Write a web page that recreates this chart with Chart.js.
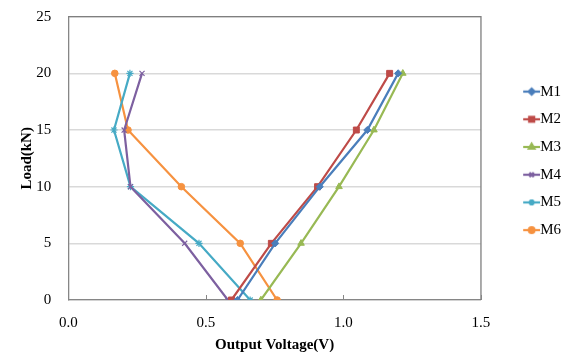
<!DOCTYPE html>
<html>
<head>
<meta charset="utf-8">
<script src="https://cdn.jsdelivr.net/npm/chart.js@4"></script>
<style>
  html, body { margin: 0; padding: 0; background: #ffffff; }
  #wrap { width: 569px; height: 352px; position: relative; }
</style>
</head>
<body>
<div id="wrap"><canvas id="c" width="569" height="352"></canvas></div>
<script>
// ---- data ----
const loads = [0, 5, 10, 15, 20];
const seriesNames = ['M1', 'M2', 'M3', 'M4', 'M5', 'M6'];
const m1 = [0.615, 0.752, 0.914, 1.087, 1.199];
const m2 = [0.593, 0.738, 0.906, 1.047, 1.168];
const m3 = [0.700, 0.846, 0.984, 1.111, 1.216];
const m4 = [0.580, 0.423, 0.226, 0.203, 0.268];
const m5 = [0.661, 0.475, 0.226, 0.166, 0.224];
const m6 = [0.759, 0.625, 0.411, 0.217, 0.169];
const xTicks = [0, 0.5, 1.0, 1.5];
const yTicks = [0, 5, 10, 15, 20, 25];

// ---- styles ----
const colors = ['#4A7EBB', '#BE4B48', '#98B954', '#7D60A0', '#46AAC5', '#F69240'];
const styles = ['rectRot', 'rect', 'triangle', 'crossRot', 'star', 'circle'];
const radii  = [3.6, 4.2, 3.8, 3.6, 3.6, 3.3];
const values = [m1, m2, m3, m4, m5, m6];

function pts(arr) { return arr.map((v, i) => ({ x: v, y: loads[i] })); }

const thinStyle = s => (s === 'crossRot' || s === 'star');

const datasets = values.map((arr, i) => ({
  label: seriesNames[i],
  data: pts(arr),
  showLine: true,
  borderColor: colors[i],
  backgroundColor: colors[i],
  borderWidth: 2.2,
  pointStyle: styles[i],
  pointRadius: radii[i],
  pointBorderWidth: thinStyle(styles[i]) ? 1.2 : 1,
  pointBorderColor: colors[i],
  pointBackgroundColor: colors[i],
  tension: 0
}));

// legend sample images (line + marker)
function legendImage(i) {
  const W = 54, H = 14;
  const cv = document.createElement('canvas');
  cv.width = W; cv.height = H;
  const ctx = cv.getContext('2d');
  ctx.strokeStyle = colors[i];
  ctx.lineWidth = 2.2;
  ctx.beginPath(); ctx.moveTo(37, H / 2); ctx.lineTo(54, H / 2); ctx.stroke();
  const opts = { pointStyle: styles[i], radius: radii[i] * 0.85, borderWidth: thinStyle(styles[i]) ? 1.2 : 1 };
  ctx.fillStyle = colors[i];
  ctx.strokeStyle = colors[i];
  if (Chart.helpers && Chart.helpers.drawPoint) {
    Chart.helpers.drawPoint(ctx, opts, 45.5, H / 2);
  } else {
    ctx.beginPath(); ctx.arc(45.5, H / 2, 3, 0, Math.PI * 2); ctx.fill();
  }
  return cv;
}

const borderPlugin = {
  id: 'plotBorder',
  afterDatasetsDraw(chart) {
    const a = chart.chartArea, ctx = chart.ctx;
    ctx.save();
    ctx.lineWidth = 1.3;
    ctx.strokeStyle = '#7f7f7f';
    ctx.beginPath();
    ctx.moveTo(a.left, a.top); ctx.lineTo(a.right, a.top);
    ctx.lineTo(a.right, a.bottom);
    ctx.stroke();
    // small inside tick marks on x axis
    const xs = chart.scales.x;
    ctx.lineWidth = 1;
    ctx.strokeStyle = '#868686';
    xTicks.forEach(v => {
      const px = Math.round(xs.getPixelForValue(v)) + 0.5;
      ctx.beginPath(); ctx.moveTo(px, a.bottom); ctx.lineTo(px, a.bottom - 5); ctx.stroke();
    });
    ctx.restore();
  }
};

new Chart(document.getElementById('c'), {
  type: 'scatter',
  data: { datasets },
  plugins: [borderPlugin],
  options: {
    responsive: false,
    animation: false,
    devicePixelRatio: 1,
    layout: { padding: { top: 16.7, left: 10, right: -2, bottom: 0 } },
    plugins: {
      tooltip: { enabled: false },
      legend: {
        position: 'right',
        align: 'center',
        fullSize: false,
        title: {
          display: true,
          text: '',
          font: { size: 1, lineHeight: 1 },
          padding: { top: 4, bottom: 0 }
        },
        labels: {
          usePointStyle: true,
          pointStyleWidth: 39,
          padding: 12.7,
          color: '#000000',
          font: { family: 'Liberation Serif', size: 15 },
          generateLabels(chart) {
            return seriesNames.map((n, i) => ({
              text: n,
              pointStyle: legendImage(i),
              fillStyle: colors[i],
              strokeStyle: colors[i],
              lineWidth: 0,
              hidden: false,
              datasetIndex: i,
              fontColor: '#000000'
            }));
          }
        }
      }
    },
    scales: {
      x: {
        type: 'linear',
        min: 0, max: 1.5,
        afterBuildTicks(scale) { scale.ticks = xTicks.map(v => ({ value: v })); },
        ticks: {
          padding: 14,
          color: '#000000',
          font: { family: 'Liberation Serif', size: 15 },
          callback: v => Number(v).toFixed(1)
        },
        grid: { display: false, drawTicks: false },
        border: { display: true, color: '#868686', width: 1.3 },
        title: {
          display: true,
          text: 'Output Voltage(V)',
          color: '#000000',
          font: { family: 'Liberation Serif', size: 15, weight: 'bold' },
          padding: { top: -10, bottom: -2 }
        }
      },
      y: {
        type: 'linear',
        min: 0, max: 25,
        afterBuildTicks(scale) { scale.ticks = yTicks.map(v => ({ value: v })); },
        ticks: {
          padding: 0,
          color: '#000000',
          font: { family: 'Liberation Serif', size: 15 }
        },
        grid: { color: '#d9d9d9', lineWidth: 1.5, drawTicks: true, tickLength: 17, tickColor: 'rgba(0,0,0,0)' },
        border: { display: true, color: '#868686', width: 1.3 },
        title: {
          display: true,
          text: 'Load(kN)',
          color: '#000000',
          font: { family: 'Liberation Serif', size: 15, weight: 'bold' },
          padding: { top: 8, bottom: 0.3 }
        }
      }
    }
  }
});
</script>
</body>
</html>
